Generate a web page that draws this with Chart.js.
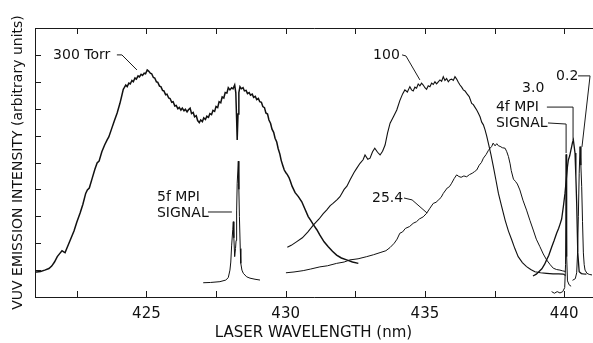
<!DOCTYPE html>
<html>
<head>
<meta charset="utf-8">
<script src="https://cdn.jsdelivr.net/npm/chart.js@4.4.0/dist/chart.umd.min.js"></script>
<style>
html, body { margin: 0; padding: 0; background: #fff; }
</style>
</head>
<body>
<canvas id="vuv" width="593" height="343"></canvas>
<script>
// data: [wavelength nm, intensity]
var torr300 = [
  [421.00,0.93],[421.06,0.93],[421.20,0.95],[421.35,1.00],[421.50,1.06],[421.60,1.15],[421.70,1.30],[421.80,1.50],
  [421.90,1.63],[421.97,1.72],[422.03,1.68],[422.08,1.65],[422.14,1.80],[422.20,1.95],[422.30,2.20],[422.40,2.45],
  [422.50,2.78],[422.62,3.12],[422.72,3.45],[422.82,3.85],[422.88,3.98],[422.95,4.05],[423.05,4.40],[423.15,4.75],
  [423.23,4.98],[423.30,5.05],[423.40,5.40],[423.50,5.65],[423.59,5.84],[423.65,5.95],[423.75,6.25],[423.85,6.55],
  [423.95,6.84],[424.05,7.20],[424.12,7.50],[424.17,7.72],[424.20,7.77],[424.26,7.88],[424.31,7.82],[424.37,7.95],
  [424.42,7.92],[424.48,8.05],[424.53,8.00],[424.59,8.14],[424.64,8.10],[424.70,8.22],[424.75,8.18],[424.81,8.28],
  [424.86,8.24],[424.92,8.32],[424.97,8.30],[425.03,8.44],[425.08,8.40],[425.14,8.32],[425.19,8.30],[425.25,8.16],
  [425.30,8.14],[425.36,8.00],[425.41,7.98],[425.47,7.84],[425.52,7.82],[425.58,7.68],[425.63,7.66],[425.69,7.52],
  [425.74,7.54],[425.80,7.40],[425.85,7.38],[425.91,7.24],[425.96,7.26],[426.02,7.10],[426.07,7.12],[426.13,7.00],
  [426.18,7.05],[426.24,6.95],[426.29,7.02],[426.35,6.92],[426.40,6.98],[426.46,6.88],[426.51,6.96],[426.57,7.02],
  [426.62,6.82],[426.68,6.86],[426.73,6.70],[426.79,6.74],[426.84,6.56],[426.90,6.48],[426.95,6.58],[427.01,6.52],
  [427.06,6.66],[427.12,6.60],[427.17,6.72],[427.23,6.68],[427.28,6.82],[427.34,6.78],[427.39,6.94],[427.45,6.90],
  [427.50,7.08],[427.56,7.04],[427.61,7.26],[427.67,7.22],[427.72,7.44],[427.78,7.40],[427.83,7.60],[427.89,7.58],
  [427.94,7.78],[428.00,7.70],[428.06,7.78],[428.11,7.74],[428.17,7.88],[428.21,7.60],[428.24,6.60],[428.26,5.84],
  [428.29,6.80],[428.32,7.60],[428.36,7.82],[428.41,7.74],[428.47,7.78],[428.52,7.66],[428.58,7.68],[428.63,7.56],
  [428.69,7.60],[428.74,7.50],[428.80,7.54],[428.85,7.42],[428.91,7.46],[428.96,7.34],[429.02,7.38],[429.07,7.26],
  [429.13,7.24],[429.18,7.08],[429.24,7.04],[429.29,6.84],[429.35,6.80],[429.40,6.58],[429.46,6.45],[429.51,6.24],
  [429.57,6.12],[429.62,5.90],[429.68,5.76],[429.73,5.52],[429.79,5.32],[429.84,5.08],[429.90,4.88],[429.95,4.72],
  [430.01,4.62],[430.06,4.55],[430.12,4.44],[430.17,4.30],[430.23,4.12],[430.34,3.88],[430.45,3.74],[430.58,3.54],
  [430.70,3.25],[430.81,2.99],[430.90,2.85],[431.00,2.68],[431.12,2.50],[431.23,2.30],[431.38,2.05],[431.53,1.87],
  [431.68,1.70],[431.83,1.56],[432.00,1.45],[432.19,1.38],[432.40,1.30],[432.61,1.25]
];
var mpi5f = [
  [427.04,0.53],[427.30,0.54],[427.64,0.57],[427.85,0.63],[427.94,0.72],[428.00,1.00],[428.03,1.30],[428.06,1.90],
  [428.10,2.50],[428.12,2.80],[428.14,2.20],[428.17,1.50],[428.20,1.80],[428.22,2.10],[428.24,3.20],[428.26,4.23],
  [428.30,5.05],[428.32,4.00],[428.34,2.99],[428.37,1.80],[428.39,1.25],[428.43,1.00],[428.48,0.88],[428.60,0.75],
  [428.72,0.70],[428.90,0.66],[429.08,0.63]
];
var torr100 = [
  [430.06,1.85],[430.20,1.92],[430.40,2.06],[430.60,2.20],[430.80,2.42],[431.00,2.68],[431.20,2.90],[431.35,3.10],
  [431.47,3.23],[431.60,3.40],[431.70,3.48],[431.85,3.62],[431.95,3.73],[432.10,4.00],[432.20,4.12],[432.31,4.35],
  [432.45,4.62],[432.55,4.78],[432.67,4.97],[432.78,5.10],[432.85,5.28],[432.95,5.12],[433.03,5.16],[433.12,5.40],
  [433.20,5.53],[433.30,5.38],[433.39,5.28],[433.48,5.42],[433.57,5.65],[433.66,6.10],[433.75,6.46],[433.87,6.70],
  [433.99,6.95],[434.10,7.30],[434.20,7.55],[434.28,7.70],[434.37,7.62],[434.46,7.82],[434.52,7.70],[434.58,7.66],
  [434.64,7.80],[434.70,7.76],[434.76,7.92],[434.82,7.85],[434.88,7.95],[434.94,7.88],[435.00,7.78],[435.06,7.72],
  [435.12,7.85],[435.18,7.82],[435.24,7.95],[435.30,7.90],[435.36,8.00],[435.42,7.92],[435.48,8.00],[435.54,8.07],
  [435.60,8.02],[435.66,8.19],[435.72,8.05],[435.78,8.12],[435.84,8.00],[435.90,8.08],[435.96,8.10],[436.02,8.05],
  [436.08,8.19],[436.14,8.10],[436.20,7.98],[436.26,7.88],[436.32,7.80],[436.38,7.70],[436.44,7.66],[436.50,7.57],
  [436.59,7.45],[436.68,7.20],[436.74,7.15],[436.80,7.05],[436.86,6.95],[436.92,6.83],[436.98,6.70],[437.04,6.50],
  [437.10,6.40],[437.16,6.21],[437.22,5.98],[437.28,5.71],[437.37,5.30],[437.46,4.84],[437.55,4.35],[437.64,3.85],
  [437.76,3.35],[437.88,2.86],[438.00,2.45],[438.12,2.12],[438.23,1.80],[438.35,1.50],[438.50,1.28],[438.65,1.13],
  [438.80,1.02],[438.95,0.94],[439.15,0.90],[439.37,0.88],[439.60,0.86],[439.80,0.86],[439.97,0.85],[440.05,0.80]
];
var torr25 = [
  [430.01,0.90],[430.30,0.93],[430.63,0.98],[430.90,1.04],[431.23,1.12],[431.50,1.16],[431.83,1.25],[432.10,1.30],
  [432.31,1.38],[432.60,1.42],[432.91,1.50],[433.15,1.57],[433.39,1.65],[433.60,1.72],[433.75,1.84],[433.90,2.00],
  [434.00,2.15],[434.10,2.37],[434.20,2.42],[434.30,2.55],[434.45,2.62],[434.58,2.74],[434.70,2.80],[434.80,2.90],
  [434.94,2.98],[435.06,3.11],[435.18,3.30],[435.30,3.48],[435.40,3.52],[435.50,3.62],[435.58,3.70],[435.66,3.85],
  [435.80,4.05],[435.88,4.10],[435.96,4.23],[436.05,4.40],[436.14,4.54],[436.22,4.48],[436.30,4.45],[436.40,4.50],
  [436.50,4.47],[436.60,4.55],[436.70,4.60],[436.78,4.66],[436.86,4.72],[436.95,4.90],[437.03,5.00],[437.10,5.16],
  [437.20,5.30],[437.28,5.45],[437.34,5.53],[437.40,5.60],[437.45,5.72],[437.52,5.62],[437.58,5.70],[437.64,5.62],
  [437.70,5.60],[437.78,5.55],[437.88,5.53],[437.94,5.40],[438.00,5.22],[438.06,4.95],[438.10,4.70],[438.18,4.38],
  [438.25,4.30],[438.32,4.20],[438.41,3.98],[438.52,3.60],[438.65,3.23],[438.77,2.85],[438.89,2.49],[439.00,2.15],
  [439.13,1.87],[439.25,1.60],[439.37,1.38],[439.50,1.20],[439.61,1.07],[439.73,1.02],[439.85,1.00],[439.95,0.97],
  [440.05,0.95]
];
var torr3 = [
  [438.88,0.78],[439.00,0.85],[439.10,0.95],[439.20,1.05],[439.30,1.22],[439.37,1.38],[439.45,1.55],[439.55,1.85],
  [439.64,2.10],[439.73,2.37],[439.80,2.55],[439.85,2.70],[439.91,2.90],[439.97,3.35],[440.03,3.85],[440.08,4.40],
  [440.12,4.85],[440.15,5.09],[440.20,5.25],[440.24,5.45],[440.27,5.59],[440.30,5.75],[440.33,5.84],[440.36,5.60],
  [440.39,5.35],[440.42,4.50],[440.45,3.49],[440.49,1.64],[440.54,0.94],[440.62,0.87],[440.69,0.86],[440.80,0.85]
];
var mpi4f = [
  [439.55,0.20],[439.65,0.14],[439.75,0.20],[439.85,0.15],[439.95,0.20],[440.02,0.35],[440.05,1.20],[440.07,5.30],
  [440.09,1.50],[440.12,0.60],[440.18,0.45],[440.25,0.40]
];
var torr02 = [
  [440.30,0.62],[440.40,0.68],[440.45,0.90],[440.48,1.60],[440.51,3.00],[440.54,4.60],[440.57,5.59],[440.60,4.90],
  [440.63,4.10],[440.66,2.80],[440.69,1.64],[440.72,1.20],[440.75,1.00],[440.82,0.88],[440.90,0.84],[441.00,0.82]
];

var xTicks = [422.5, 425, 427.5, 430, 432.5, 435, 437.5, 440];
var xTitle = 'LASER WAVELENGTH (nm)';
var yTitle = 'VUV EMISSION INTENSITY (arbitrary units)';

// curve labels with leader lines, in data units
var notes = [
  { text: '300 Torr', x: 421.65, y: 9.0, lead: [[423.94, 9.0], [424.12, 9.0], [424.66, 8.44]] },
  { text: '100', x: 433.14, y: 9.0, lead: [[434.18, 9.0], [434.32, 8.96], [434.82, 8.07]] },
  { text: '25.4', x: 433.1, y: 3.68, lead: [[434.25, 3.68], [434.54, 3.61], [435.08, 3.12]] },
  { text: '3.0', x: 438.49, y: 7.77, lead: [] },
  { text: '4f MPI', x: 437.55, y: 7.06, lead: [[439.38, 7.06], [440.32, 7.06], [440.32, 5.84]] },
  { text: 'SIGNAL', x: 437.55, y: 6.47, lead: [[439.42, 6.47], [440.07, 6.43], [440.07, 5.35]] },
  { text: '0.2', x: 439.71, y: 8.22, lead: [[440.5, 8.22], [440.93, 8.22], [440.64, 5.58]] },
  { text: '5f MPI', x: 425.38, y: 3.72, lead: [] },
  { text: 'SIGNAL', x: 425.38, y: 3.12, lead: [[427.21, 3.16], [428.07, 3.16]] }
];

function pts(arr) {
    return arr.map(function (p) { return { x: p[0], y: p[1] }; });
}

function curve(arr, width) {
    return {
        data: pts(arr),
        borderColor: '#111',
        borderWidth: width,
        pointRadius: 0,
        showLine: true,
        fill: false,
        tension: 0
    };
}

// frame, inward ticks and labels
var framePlugin = {
    id: 'frame',
    afterDraw: function (chart) {
        var ctx = chart.ctx;
        var a = chart.chartArea;
        var sx = chart.scales.x, sy = chart.scales.y;
        ctx.save();
        ctx.strokeStyle = '#1a1a1a';
        ctx.lineWidth = 1;
        ctx.beginPath();
        ctx.moveTo(a.left + 0.5, a.top + 0.5);
        ctx.lineTo(a.right + 1, a.top + 0.5);
        ctx.moveTo(a.left + 0.5, a.top);
        ctx.lineTo(a.left + 0.5, a.bottom + 0.5);
        ctx.lineTo(a.right + 1, a.bottom + 0.5);
        sx.ticks.forEach(function (t) {
            var px = Math.round(sx.getPixelForValue(t.value)) + 0.5;
            ctx.moveTo(px, a.bottom); ctx.lineTo(px, a.bottom - 6);
            ctx.moveTo(px, a.top); ctx.lineTo(px, a.top + 6);
        });
        sy.ticks.forEach(function (t) {
            var py = Math.round(sy.getPixelForValue(t.value)) + 0.5;
            ctx.moveTo(a.left, py); ctx.lineTo(a.left + 6, py);
        });
        ctx.stroke();

        ctx.fillStyle = '#111';
        ctx.font = '14px "DejaVu Sans"';
        ctx.textBaseline = 'middle';
        ctx.textAlign = 'left';
        notes.forEach(function (n) {
            ctx.fillText(n.text, sx.getPixelForValue(n.x), sy.getPixelForValue(n.y));
            if (n.lead.length) {
                ctx.beginPath();
                n.lead.forEach(function (p, i) {
                    var px = sx.getPixelForValue(p[0]), py = sy.getPixelForValue(p[1]);
                    if (i == 0) ctx.moveTo(px, py); else ctx.lineTo(px, py);
                });
                ctx.stroke();
            }
        });
        ctx.restore();
    }
};

new Chart(document.getElementById('vuv'), {
    type: 'scatter',
    data: {
        datasets: [
            curve(torr300, 1.5),
            curve(mpi5f, 1),
            curve(torr100, 1.1),
            curve(torr25, 1),
            curve(torr3, 1.3),
            curve(mpi4f, 1),
            curve(torr02, 1)
        ]
    },
    options: {
        responsive: false,
        animation: false,
        layout: { padding: { top: 28, right: 1, left: 0, bottom: 0 } },
        plugins: { legend: { display: false }, tooltip: { enabled: false } },
        scales: {
            x: {
                type: 'linear',
                min: 421,
                max: 441,
                afterBuildTicks: function (scale) {
                    scale.ticks = xTicks.map(function (v) { return { value: v }; });
                },
                afterFit: function (scale) { scale.height = 46; },
                grid: { display: false, drawTicks: false },
                border: { display: false },
                ticks: {
                    autoSkip: false,
                    maxRotation: 0,
                    padding: 8,
                    color: '#111',
                    font: { family: 'DejaVu Sans', size: 15 },
                    callback: function (v) { return v % 5 === 0 ? String(v) : ''; }
                },
                title: {
                    display: true,
                    text: xTitle,
                    color: '#111',
                    font: { family: 'DejaVu Sans', size: 15 },
                    padding: { top: 0, bottom: 1 }
                }
            },
            y: {
                min: 0,
                max: 10,
                afterFit: function (scale) { scale.width = 35; },
                grid: { display: false, drawTicks: false },
                border: { display: false },
                ticks: { display: false, stepSize: 1 },
                title: {
                    display: true,
                    text: yTitle,
                    color: '#111',
                    font: { family: 'DejaVu Sans', size: 14 },
                    padding: { top: 10, bottom: 0 }
                }
            }
        }
    },
    plugins: [framePlugin]
});
</script>
</body>
</html>
